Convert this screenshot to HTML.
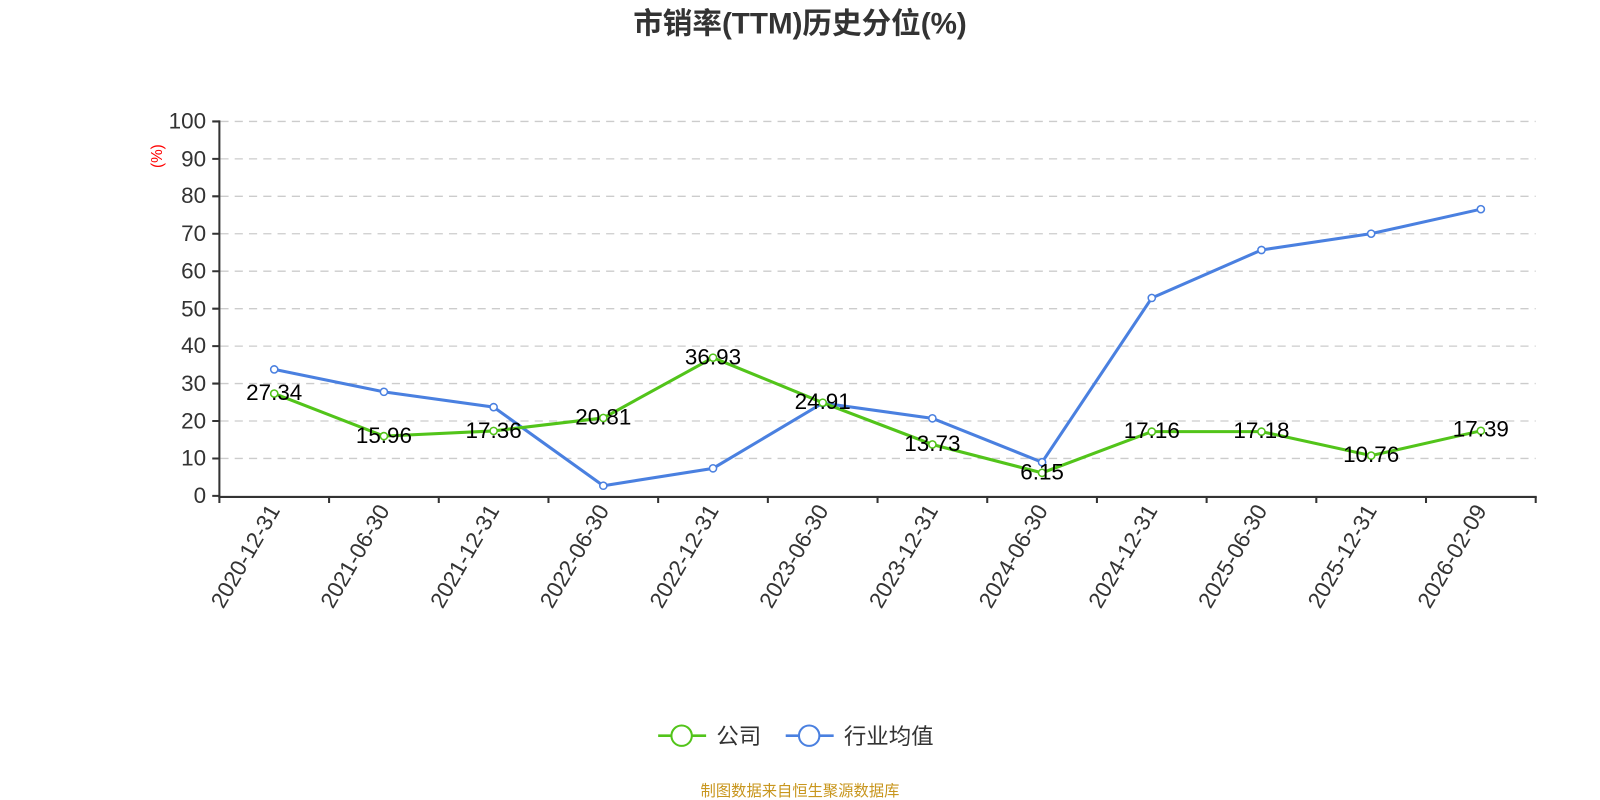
<!DOCTYPE html>
<html><head><meta charset="utf-8"><style>body{margin:0;background:#fff}svg{display:block}text{font-family:"Liberation Sans","Noto Sans CJK SC",sans-serif}</style></head><body>
<svg width="1600" height="800" xmlns="http://www.w3.org/2000/svg">
<g transform="scale(1.0204)">
<text x="784" y="33" text-anchor="middle" font-size="29" font-weight="bold" fill="#333">市销率(TTM)历史分位(%)</text>
<g stroke="#ccc" stroke-dasharray="8,6" stroke-width="1.3">
<line x1="216" x2="1505" y1="119" y2="119"/><line x1="216" x2="1505" y1="155.7" y2="155.7"/><line x1="216" x2="1505" y1="192.4" y2="192.4"/><line x1="216" x2="1505" y1="229.1" y2="229.1"/><line x1="216" x2="1505" y1="265.8" y2="265.8"/><line x1="216" x2="1505" y1="302.5" y2="302.5"/><line x1="216" x2="1505" y1="339.2" y2="339.2"/><line x1="216" x2="1505" y1="375.9" y2="375.9"/><line x1="216" x2="1505" y1="412.6" y2="412.6"/><line x1="216" x2="1505" y1="449.3" y2="449.3"/>
</g>
<g stroke="#333" stroke-width="2">
<line x1="215" y1="118" x2="215" y2="487"/>
<line x1="214" y1="487" x2="1506" y2="487"/>
<path d="M208 119H215M208 155.7H215M208 192.4H215M208 229.1H215M208 265.8H215M208 302.5H215M208 339.2H215M208 375.9H215M208 412.6H215M208 449.3H215M208 486H215"/>
<path d="M215 487v6M322.5 487v6M430 487v6M537.5 487v6M645 487v6M752.5 487v6M860 487v6M967.5 487v6M1075 487v6M1182.5 487v6M1290 487v6M1397.5 487v6M1505 487v6"/>
</g>
<g font-size="22" fill="#333" text-anchor="end">
<text x="202" y="126">100</text><text x="202" y="163">90</text><text x="202" y="199">80</text><text x="202" y="236">70</text><text x="202" y="273">60</text><text x="202" y="310">50</text><text x="202" y="346">40</text><text x="202" y="383">30</text><text x="202" y="420">20</text><text x="202" y="456">10</text><text x="202" y="493">0</text>
</g>
<text transform="translate(159,153) rotate(-90)" text-anchor="middle" font-size="15" fill="red">(%)</text>
<g font-size="22" fill="#333" text-anchor="end">
<text transform="translate(275,500) rotate(-60)">2020-12-31</text>
<text transform="translate(382.5,500) rotate(-60)">2021-06-30</text>
<text transform="translate(490,500) rotate(-60)">2021-12-31</text>
<text transform="translate(597.5,500) rotate(-60)">2022-06-30</text>
<text transform="translate(705,500) rotate(-60)">2022-12-31</text>
<text transform="translate(812.5,500) rotate(-60)">2023-06-30</text>
<text transform="translate(920,500) rotate(-60)">2023-12-31</text>
<text transform="translate(1027.5,500) rotate(-60)">2024-06-30</text>
<text transform="translate(1135,500) rotate(-60)">2024-12-31</text>
<text transform="translate(1242.5,500) rotate(-60)">2025-06-30</text>
<text transform="translate(1350,500) rotate(-60)">2025-12-31</text>
<text transform="translate(1457.5,500) rotate(-60)">2026-02-09</text>
</g>
<polyline fill="none" stroke="#4a80e0" stroke-width="3" points="268.75,362 376.25,384 483.75,399 591.25,476 698.75,459 806.25,395 913.75,410 1021.25,453 1128.75,292 1236.25,245 1343.75,229 1451.25,205"/>
<g fill="#fff" stroke="#4a80e0" stroke-width="1.5">
<circle cx="268.75" cy="362" r="3.5"/><circle cx="376.25" cy="384" r="3.5"/><circle cx="483.75" cy="399" r="3.5"/><circle cx="591.25" cy="476" r="3.5"/><circle cx="698.75" cy="459" r="3.5"/><circle cx="806.25" cy="395" r="3.5"/><circle cx="913.75" cy="410" r="3.5"/><circle cx="1021.25" cy="453" r="3.5"/><circle cx="1128.75" cy="292" r="3.5"/><circle cx="1236.25" cy="245" r="3.5"/><circle cx="1343.75" cy="229" r="3.5"/><circle cx="1451.25" cy="205" r="3.5"/>
</g>
<polyline fill="none" stroke="#52c41a" stroke-width="3" points="268.75,385.7 376.25,427.4 483.75,422.3 591.25,409.6 698.75,350.5 806.25,394.6 913.75,435.6 1021.25,463.4 1128.75,423 1236.25,423 1343.75,446.5 1451.25,422.2"/>
<g fill="#fff" stroke="#52c41a" stroke-width="1.5">
<circle cx="268.75" cy="385.7" r="3.5"/><circle cx="376.25" cy="427.4" r="3.5"/><circle cx="483.75" cy="422.3" r="3.5"/><circle cx="591.25" cy="409.6" r="3.5"/><circle cx="698.75" cy="350.5" r="3.5"/><circle cx="806.25" cy="394.6" r="3.5"/><circle cx="913.75" cy="435.6" r="3.5"/><circle cx="1021.25" cy="463.4" r="3.5"/><circle cx="1128.75" cy="423" r="3.5"/><circle cx="1236.25" cy="423" r="3.5"/><circle cx="1343.75" cy="446.5" r="3.5"/><circle cx="1451.25" cy="422.2" r="3.5"/>
</g>
<g font-size="22" fill="#000" text-anchor="middle">
<text x="268.75" y="392">27.34</text><text x="376.25" y="434">15.96</text><text x="483.75" y="429">17.36</text><text x="591.25" y="416">20.81</text><text x="698.75" y="357">36.93</text><text x="806.25" y="401">24.91</text><text x="913.75" y="442">13.73</text><text x="1021.25" y="470">6.15</text><text x="1128.75" y="429">17.16</text><text x="1236.25" y="429">17.18</text><text x="1343.75" y="453">10.76</text><text x="1451.25" y="428">17.39</text>
</g>
<line x1="645" y1="721" x2="692" y2="721" stroke="#52c41a" stroke-width="2.5"/><circle cx="668" cy="721" r="10" fill="#fff" stroke="#52c41a" stroke-width="2"/>
<text x="702" y="729" font-size="22" fill="#333">公司</text>
<line x1="770" y1="721" x2="817" y2="721" stroke="#4a80e0" stroke-width="2.5"/><circle cx="793" cy="721" r="10" fill="#fff" stroke="#4a80e0" stroke-width="2"/>
<text x="827" y="729" font-size="22" fill="#333">行业均值</text>
<text x="784" y="780" text-anchor="middle" font-size="15" fill="#c8961e">制图数据来自恒生聚源数据库</text>
</g>
</svg>
</body></html>
